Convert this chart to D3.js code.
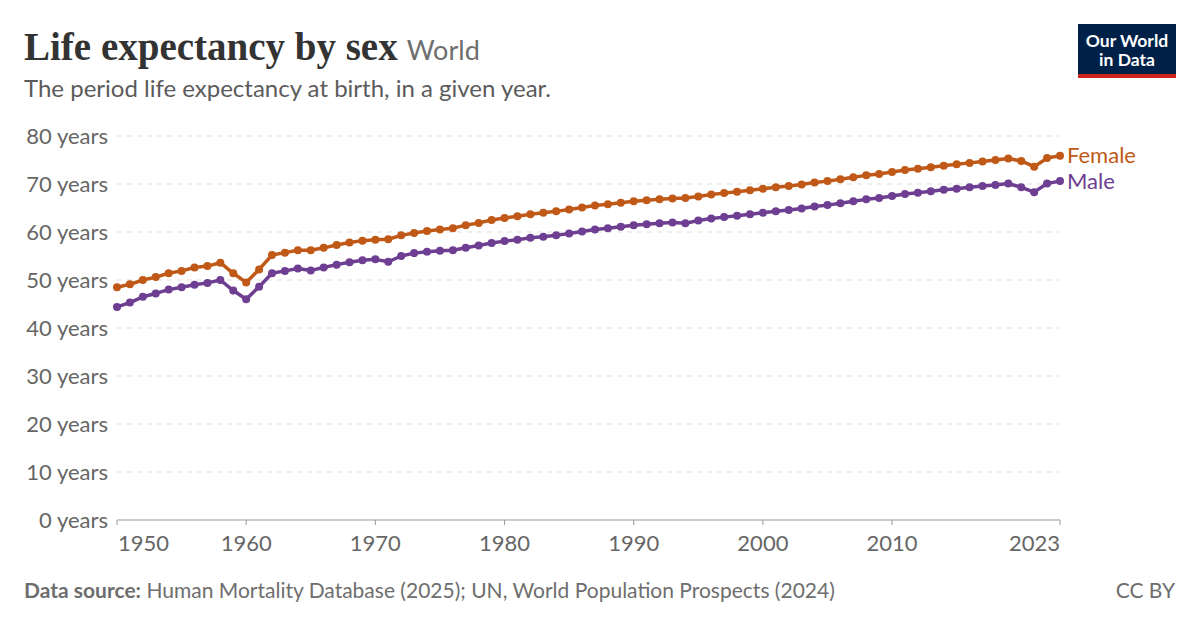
<!DOCTYPE html>
<html>
<head>
<meta charset="utf-8">
<script src="https://cdn.jsdelivr.net/npm/d3@7"></script>
<style>
  body { margin: 0; background: #fff; }
  svg { display: block; font-family: Lato, "Noto Sans", sans-serif; }
</style>
</head>
<body>
<svg id="chart" width="1200" height="627"></svg>
<script>
// years 1950..2023
var years = d3.range(1950, 2024);

var female = [
  48.5, 49.1, 50.0, 50.6, 51.4, 51.9, 52.6, 52.9, 53.6, 51.4,
  49.5, 52.2, 55.2, 55.7, 56.2, 56.2, 56.7, 57.3, 57.8, 58.2,
  58.4, 58.5, 59.3, 59.8, 60.2, 60.5, 60.8, 61.4, 61.9, 62.5,
  62.9, 63.3, 63.7, 64.0, 64.3, 64.7, 65.1, 65.5, 65.8, 66.1,
  66.4, 66.6, 66.8, 67.0, 67.1, 67.4, 67.8, 68.1, 68.4, 68.7,
  69.0, 69.3, 69.6, 69.9, 70.3, 70.6, 71.0, 71.4, 71.8, 72.1,
  72.5, 72.9, 73.2, 73.5, 73.8, 74.1, 74.4, 74.7, 75.0, 75.3,
  74.8, 73.6, 75.4, 75.9
];

var male = [
  44.4, 45.3, 46.5, 47.2, 48.0, 48.5, 49.0, 49.4, 50.0, 47.8,
  46.0, 48.6, 51.4, 51.9, 52.4, 52.0, 52.6, 53.2, 53.7, 54.1,
  54.3, 53.8, 55.0, 55.6, 55.9, 56.1, 56.2, 56.7, 57.2, 57.7,
  58.1, 58.4, 58.8, 59.0, 59.3, 59.7, 60.1, 60.5, 60.8, 61.1,
  61.4, 61.6, 61.8, 62.0, 61.8, 62.4, 62.8, 63.1, 63.4, 63.7,
  64.0, 64.3, 64.6, 64.9, 65.3, 65.6, 66.0, 66.4, 66.8, 67.1,
  67.5, 67.9, 68.2, 68.5, 68.8, 69.0, 69.3, 69.6, 69.8, 70.1,
  69.3, 68.3, 70.1, 70.6
];

var yTicks = [0, 10, 20, 30, 40, 50, 60, 70, 80];
var xTicks = [1950, 1960, 1970, 1980, 1990, 2000, 2010, 2023];

var seriesNames = ["Female", "Male"];
var seriesColors = ["#c05917", "#6d3e91"];

var svg = d3.select("#chart");

// chart area (don't call it "top", that's window.top)
var plotLeft = 117, plotRight = 1060, plotTop = 136, plotBottom = 520;

var x = d3.scaleLinear().domain([1950, 2023]).range([plotLeft, plotRight]);
var y = d3.scaleLinear().domain([0, 80]).range([plotBottom, plotTop]);

// title block
var title = svg.append("text")
  .attr("x", 24).attr("y", 60)
  .style("font-family", "'Liberation Serif', 'DejaVu Serif', serif")
  .style("font-weight", "bold")
  .style("font-size", "39px")
  .attr("fill", "#333");
title.append("tspan").text("Life expectancy by sex");
title.append("tspan")
  .attr("dx", 9)
  .style("font-family", "Lato, sans-serif")
  .style("font-weight", "normal")
  .style("font-size", "27px")
  .attr("fill", "#6e6e6e")
  .text("World");

svg.append("text")
  .attr("x", 24).attr("y", 97)
  .style("font-size", "24px")
  .attr("fill", "#5b5b5b")
  .text("The period life expectancy at birth, in a given year.");

// logo
var logo = svg.append("g");
logo.append("rect").attr("x", 1078).attr("y", 24).attr("width", 98).attr("height", 54).attr("fill", "#002147");
logo.append("rect").attr("x", 1078).attr("y", 74).attr("width", 98).attr("height", 4).attr("fill", "#ce261e");
logo.append("text").attr("x", 1127).attr("y", 47).attr("text-anchor", "middle")
  .style("font-size", "17.5px").style("font-weight", "bold").attr("fill", "#fff").text("Our World");
logo.append("text").attr("x", 1127).attr("y", 66).attr("text-anchor", "middle")
  .style("font-size", "17.5px").style("font-weight", "bold").attr("fill", "#fff").text("in Data");

// gridlines + y labels
var yAxis = svg.append("g");
yTicks.forEach(function(t) {
  if (t > 0) {
    yAxis.append("line")
      .attr("x1", plotLeft).attr("x2", plotRight)
      .attr("y1", y(t)).attr("y2", y(t))
      .attr("stroke", "#ddd").attr("stroke-width", 1)
      .attr("stroke-dasharray", "5,5");
  }
  yAxis.append("text")
    .attr("x", 108).attr("y", y(t))
    .attr("dy", "0.35em")
    .attr("text-anchor", "end")
    .style("font-size", "22px")
    .attr("fill", "#666")
    .text(t + " years");
});

// x axis
var xAxis = svg.append("g");
xAxis.append("line")
  .attr("x1", plotLeft).attr("x2", plotRight)
  .attr("y1", plotBottom).attr("y2", plotBottom)
  .attr("stroke", "#999");
xTicks.forEach(function(t, i) {
  xAxis.append("line")
    .attr("x1", x(t)).attr("x2", x(t))
    .attr("y1", plotBottom).attr("y2", plotBottom + 5)
    .attr("stroke", "#999");
  var anchor = i === 0 ? "start" : (i === xTicks.length - 1 ? "end" : "middle");
  xAxis.append("text")
    .attr("x", x(t) + (i === 0 ? 1 : 0)).attr("y", plotBottom + 31)
    .attr("text-anchor", anchor)
    .style("font-size", "22px")
    .attr("fill", "#666")
    .text(t);
});

// lines and dots
var seriesData = [female, male];
var line = d3.line()
  .x(function(d, i) { return x(years[i]); })
  .y(function(d) { return y(d); });

seriesData.forEach(function(vals, s) {
  var g = svg.append("g");
  g.append("path")
    .datum(vals)
    .attr("d", line)
    .attr("fill", "none")
    .attr("stroke", seriesColors[s])
    .attr("stroke-width", 3.5)
    .attr("stroke-linejoin", "round");
  g.selectAll("circle")
    .data(vals)
    .enter().append("circle")
    .attr("cx", function(d, i) { return x(years[i]); })
    .attr("cy", function(d) { return y(d); })
    .attr("r", 4)
    .attr("fill", seriesColors[s]);
  g.append("text")
    .attr("x", plotRight + 7)
    .attr("y", y(vals[vals.length - 1]))
    .attr("dy", "0.35em")
    .style("font-size", "22px")
    .attr("fill", seriesColors[s])
    .text(seriesNames[s]);
});

// footer
var src = svg.append("text")
  .attr("x", 24).attr("y", 598)
  .style("font-size", "21px")
  .attr("fill", "#6e6e6e");
src.append("tspan").style("font-weight", "bold").text("Data source:");
src.append("tspan").text(" Human Mortality Database (2025); UN, World Population Prospects (2024)");

svg.append("text")
  .attr("x", 1175).attr("y", 598)
  .attr("text-anchor", "end")
  .style("font-size", "21px")
  .attr("fill", "#6e6e6e")
  .text("CC BY");
</script>
</body>
</html>
